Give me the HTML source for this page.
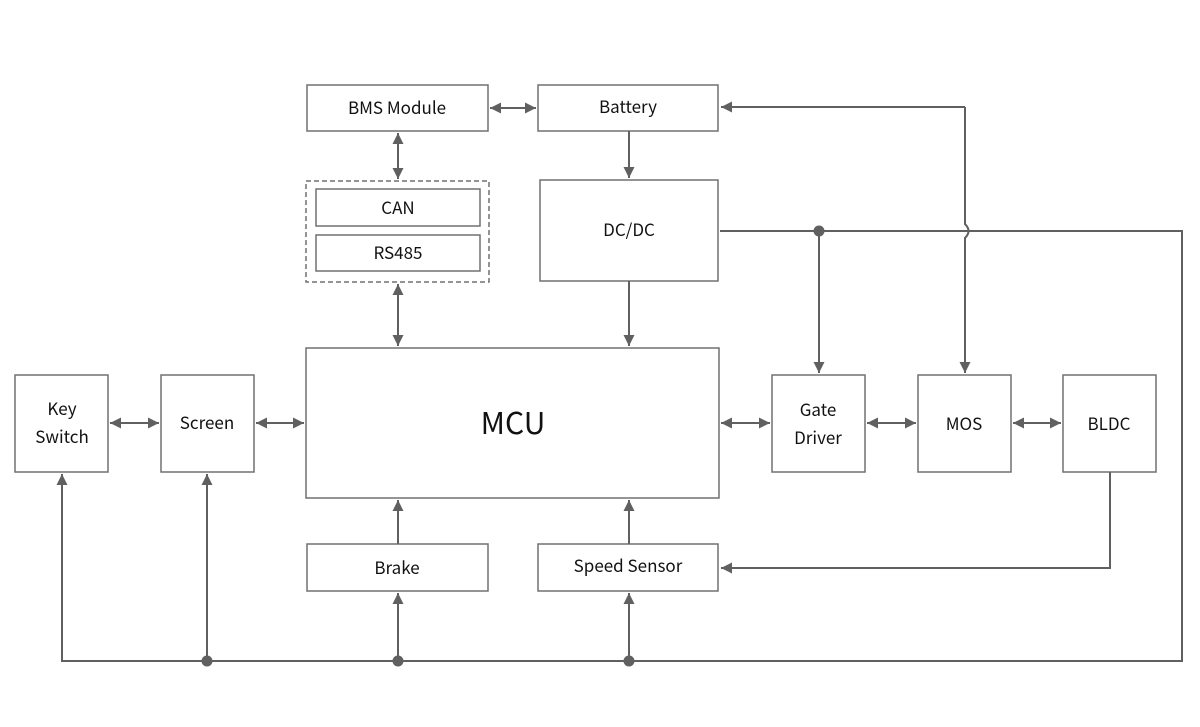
<!DOCTYPE html>
<html><head><style>body{margin:0;background:#fff}svg{display:block}</style></head><body>
<svg width="1200" height="727" viewBox="0 0 1200 727" xmlns="http://www.w3.org/2000/svg" font-family="Noto Sans CJK SC, Liberation Sans, sans-serif">
<defs>
<marker id="a" viewBox="0 0 10 10" refX="10" refY="5" markerWidth="5.5" markerHeight="5.5" orient="auto-start-reverse" markerUnits="strokeWidth"><path d="M0,0L10,5L0,10z" fill="#606060"/></marker>
</defs>
<g fill="#fff" stroke="#707070" stroke-width="1.5">
<rect x="307" y="85" width="181" height="46"/>
<rect x="538" y="85" width="180" height="46"/>
<rect x="540" y="180" width="178" height="101"/>
<rect x="306" y="181" width="183" height="101" stroke-dasharray="5,3"/>
<rect x="316" y="189" width="164" height="37"/>
<rect x="316" y="235" width="164" height="36"/>
<rect x="306" y="348" width="413" height="150"/>
<rect x="15" y="375" width="93" height="97"/>
<rect x="161" y="375" width="93" height="97"/>
<rect x="772" y="375" width="93" height="97"/>
<rect x="918" y="375" width="93" height="97"/>
<rect x="1063" y="375" width="93" height="97"/>
<rect x="307" y="544" width="181" height="47"/>
<rect x="538" y="544" width="180" height="47"/>
</g>
<g fill="none" stroke="#606060" stroke-width="2">
<path d="M490,108H536" marker-start="url(#a)" marker-end="url(#a)"/>
<path d="M398,133V179" marker-start="url(#a)" marker-end="url(#a)"/>
<path d="M398,284V346" marker-start="url(#a)" marker-end="url(#a)"/>
<path d="M629,131V178" marker-end="url(#a)"/>
<path d="M629,281V346" marker-end="url(#a)"/>
<path d="M720,231H1182V661H62V474" marker-end="url(#a)"/>
<path d="M819,231V373" marker-end="url(#a)"/>
<path d="M965,107V224Q972,231 965,238V373" marker-end="url(#a)"/>
<path d="M965,107H721" marker-end="url(#a)"/>
<path d="M207,661V474" marker-end="url(#a)"/>
<path d="M398,661V593" marker-end="url(#a)"/>
<path d="M629,661V593" marker-end="url(#a)"/>
<path d="M398,544V500" marker-end="url(#a)"/>
<path d="M629,544V500" marker-end="url(#a)"/>
<path d="M1110,472V568H721" marker-end="url(#a)"/>
<path d="M110,423H159" marker-start="url(#a)" marker-end="url(#a)"/>
<path d="M256,423H304" marker-start="url(#a)" marker-end="url(#a)"/>
<path d="M721,423H770" marker-start="url(#a)" marker-end="url(#a)"/>
<path d="M867,423H916" marker-start="url(#a)" marker-end="url(#a)"/>
<path d="M1013,423H1061" marker-start="url(#a)" marker-end="url(#a)"/>
</g>
<g fill="#606060"><circle cx="819" cy="231" r="5.5"/><circle cx="207" cy="661" r="5.5"/><circle cx="398" cy="661" r="5.5"/><circle cx="629" cy="661" r="5.5"/></g>
<g fill="#111" font-size="17" text-anchor="middle">
<text x="397" y="114">BMS Module</text>
<text x="628" y="113">Battery</text>
<text x="629" y="236">DC/DC</text>
<text x="398" y="214">CAN</text>
<text x="398" y="259">RS485</text>
<text x="513" y="434" font-size="30">MCU</text>
<text x="62" y="415">Key</text><text x="62" y="443">Switch</text>
<text x="207" y="429">Screen</text>
<text x="818" y="416">Gate</text><text x="818" y="444">Driver</text>
<text x="964" y="430">MOS</text>
<text x="1109" y="430">BLDC</text>
<text x="397" y="574">Brake</text>
<text x="628" y="572">Speed Sensor</text>
</g>
</svg>
</body></html>
